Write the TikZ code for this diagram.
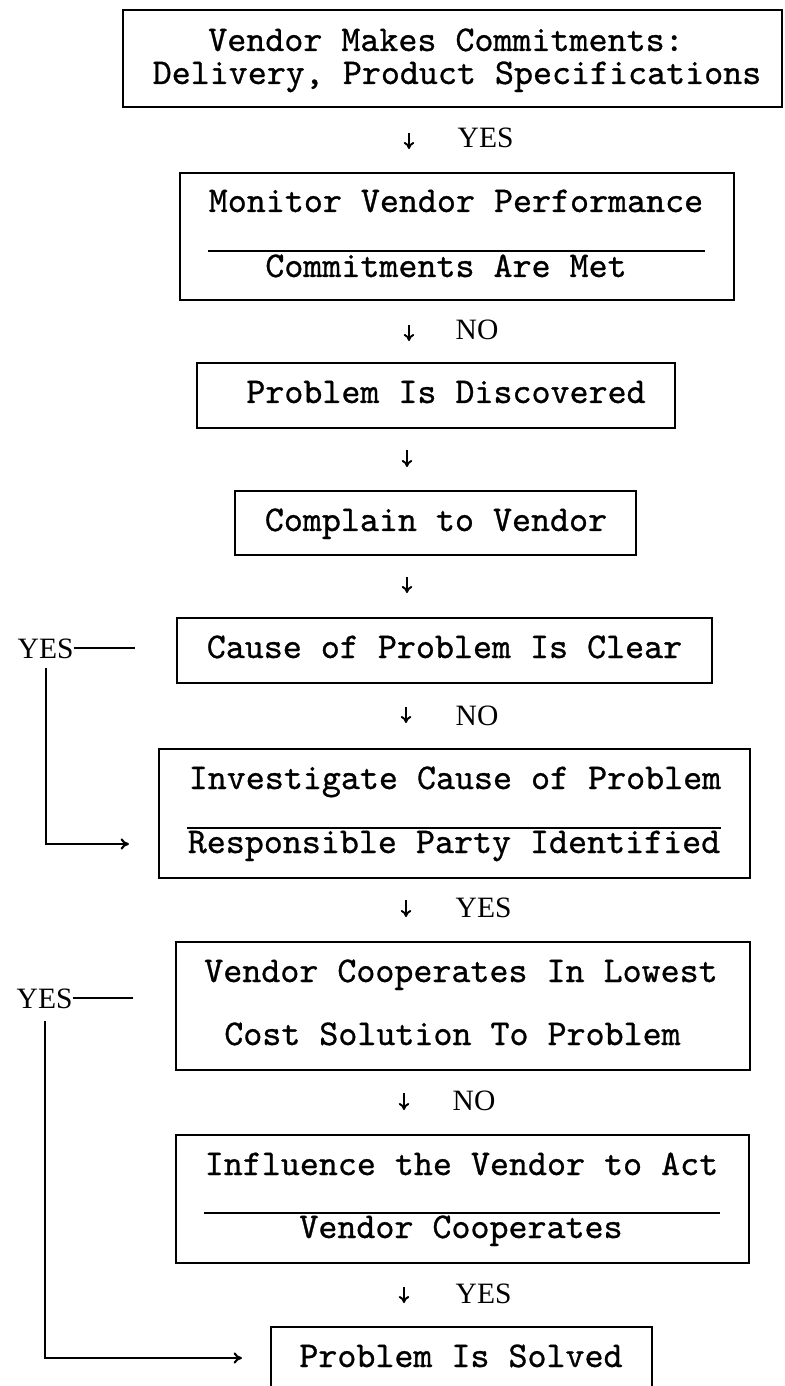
\documentclass[tikz,border=0pt]{standalone}
\usepackage{fontspec}
\usetikzlibrary{arrows.meta}
\newfontfamily\ynfont{Liberation Serif}
\newfontfamily\cardmono{lmmono10-regular}[Extension=.otf, FakeBold=0.8]
\newcommand\cardfont{\fontsize{10.3pt}{12pt}\selectfont\cardmono}
\tikzset{
    box/.style={draw, line width=0.6pt, inner sep=0pt},
    txt/.style={inner sep=0pt, anchor=base, font=\cardfont},
    yn/.style={inner sep=0pt, anchor=base west, font=\ynfont\fontsize{8.4pt}{10pt}\selectfont},
    sep/.style={line width=0.6pt},
    down/.style={line width=0.55pt, -{To[length=2pt,width=3pt]}},
    loop/.style={line width=0.6pt, -{To[length=2.4pt,width=3.2pt]}}
}
\begin{document}
\begin{tikzpicture}[x=0.01cm, y=-0.01cm]
    \useasboundingbox (0,0) rectangle (784,1386);

    % boxes
    \node[box, minimum width=6.59cm, minimum height=0.97cm] (b1) at (452.5,58.5) {};
    \node[box, minimum width=5.54cm, minimum height=1.27cm] (b2) at (457,236.5) {};
    \node[box, minimum width=4.78cm, minimum height=0.65cm] (b3) at (436,395.5) {};
    \node[box, minimum width=4.01cm, minimum height=0.64cm] (b4) at (435.5,523) {};
    \node[box, minimum width=5.35cm, minimum height=0.65cm] (b5) at (444.5,650.5) {};
    \node[box, minimum width=5.91cm, minimum height=1.29cm] (b6) at (454.5,813.5) {};
    \node[box, minimum width=5.74cm, minimum height=1.28cm] (b7) at (463,1006) {};
    \node[box, minimum width=5.73cm, minimum height=1.28cm] (b8) at (462.5,1199) {};
    \node[box, minimum width=3.81cm, minimum height=0.62cm] (b9) at (461.5,1358) {};

    % texts
    \node[txt] (t1a) at (446,51) {Vendor Makes Commitments:};
    \node[txt] (t1b) at (457,84) {Delivery, Product Specifications};
    \node[txt] (t2a) at (456,212) {Monitor Vendor Performance};
        \draw[sep] (208,251) -- (705,251);
    \node[txt] (t2b) at (446,277) {Commitments Are Met};
    \node[txt] (t3) at (446,403) {Problem Is Discovered};
    \node[txt] (t4) at (436,531) {Complain to Vendor};
    \node[txt] (t5) at (444.5,658) {Cause of Problem Is Clear};
    \node[txt] (t6a) at (455,789) {Investigate Cause of Problem};
        \draw[sep] (187,828) -- (721,828);
    \node[txt] (t6b) at (454,853) {Responsible Party Identified};
    \node[txt] (t7a) at (461,982) {Vendor Cooperates In Lowest};
    \node[txt] (t7b) at (452.5,1045) {Cost Solution To Problem};
    \node[txt] (t8a) at (461.5,1175) {Influence the Vendor to Act};
        \draw[sep] (204,1213) -- (720,1213);
    \node[txt] (t8b) at (461,1238) {Vendor Cooperates};
    \node[txt] (t9) at (461,1367) {Problem Is Solved};

    % down arrows and answers
    \draw[down] (409,133) -- (409,149);
        \node[yn] (y1) at (457,148) {YES};
    \draw[down] (409,325) -- (409,341);
        \node[yn] (n1) at (455,340) {NO};
    \draw[down] (407,450) -- (407,467);
    \draw[down] (407,577) -- (407,593);
    \draw[down] (406,707) -- (406,723);
        \node[yn] (n2) at (455,725) {NO};
    \draw[down] (406,900) -- (406,917);
        \node[yn] (y2) at (455,917) {YES};
    \draw[down] (404,1093) -- (404,1110);
        \node[yn] (n3) at (452,1110) {NO};
    \draw[down] (404,1287) -- (404,1303);
        \node[yn] (y3) at (455,1303) {YES};

    % YES loops on the left
    \node[yn] (ya) at (17,658) {YES};
    \coordinate (ea) at (129,844);
        \draw[sep] (ya.east) -- ++(61,0);
        \draw[loop] ([yshift=-0.09cm]ya.south) |- (ea);
    \node[yn] (yb) at (16,1008) {YES};
    \coordinate (eb) at (242,1358);
        \draw[sep] (yb.east) -- ++(60,0);
        \draw[loop] ([yshift=-0.12cm]yb.south) |- (eb);
\end{tikzpicture}
\end{document}
